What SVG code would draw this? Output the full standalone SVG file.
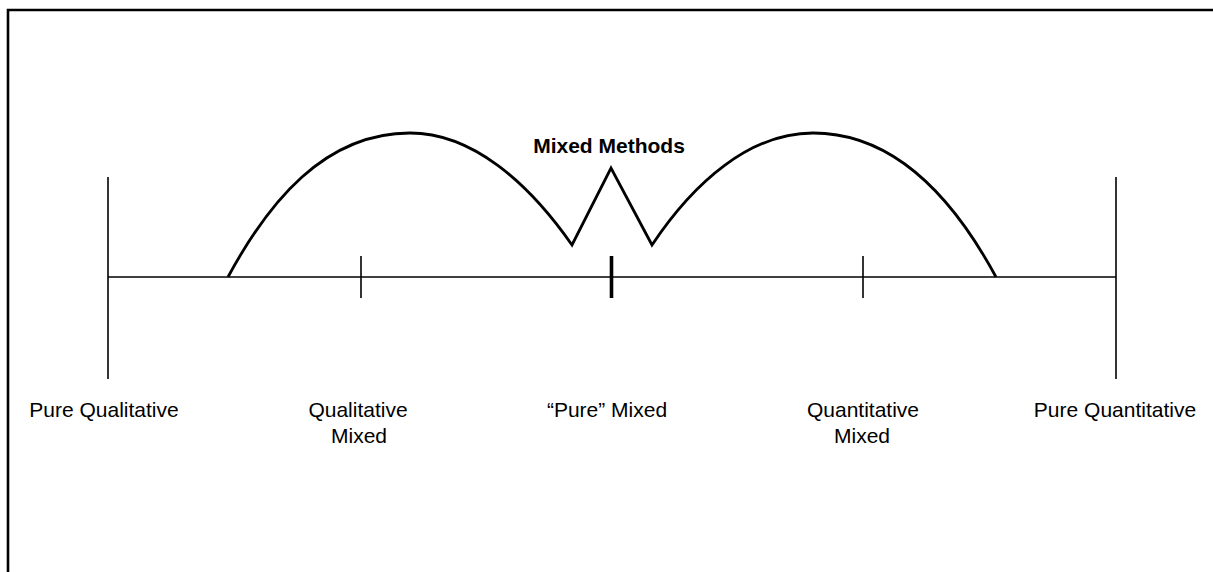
<svg xmlns="http://www.w3.org/2000/svg" width="1213" height="572" viewBox="0 0 1213 572">
<style>
.ln{stroke:#000;stroke-width:1.6;fill:none}
.arc{stroke:#000;stroke-width:2.8;fill:none;stroke-linejoin:miter}
.lbl{font-family:"Liberation Sans",Arial,sans-serif;font-size:21px;fill:#000;text-anchor:middle}
.ttl{font-family:"Liberation Sans",Arial,sans-serif;font-size:21px;font-weight:bold;fill:#000;text-anchor:middle}
</style>
<rect width="1213" height="572" fill="#fff"/>
<path d="M8,574 V10 H1215" fill="none" stroke="#000" stroke-width="2.6"/>
<g id="connectors">
<line class="ln" x1="108" y1="277" x2="1116" y2="277"/>
<path class="arc" d="M228,277 C268,203 324,133 410,133 C472,133 528,182 572,245 L611,168 L652,245 C694,182 750,133 813,133 C898,133 956,203 996,277"/>
</g>
<g id="pure-qualitative">
<line class="ln" x1="108" y1="177" x2="108" y2="379"/>
<text class="lbl" x="104" y="417">Pure Qualitative</text>
</g>
<g id="qualitative-mixed">
<line class="ln" x1="361" y1="256" x2="361" y2="298"/>
<text class="lbl" x="358" y="417">Qualitative</text>
<text class="lbl" x="359" y="443">Mixed</text>
</g>
<g id="pure-mixed">
<line x1="611.5" y1="256" x2="611.5" y2="298" stroke="#000" stroke-width="3.6"/>
<text class="lbl" x="607" y="417">“Pure” Mixed</text>
</g>
<g id="quantitative-mixed">
<line class="ln" x1="863" y1="256" x2="863" y2="298"/>
<text class="lbl" x="863" y="417">Quantitative</text>
<text class="lbl" x="862" y="443">Mixed</text>
</g>
<g id="pure-quantitative">
<line class="ln" x1="1116" y1="177" x2="1116" y2="379"/>
<text class="lbl" x="1115" y="417">Pure Quantitative</text>
</g>
<g id="mixed-methods">
<text class="ttl" x="609" y="153">Mixed Methods</text>
</g>
</svg>
